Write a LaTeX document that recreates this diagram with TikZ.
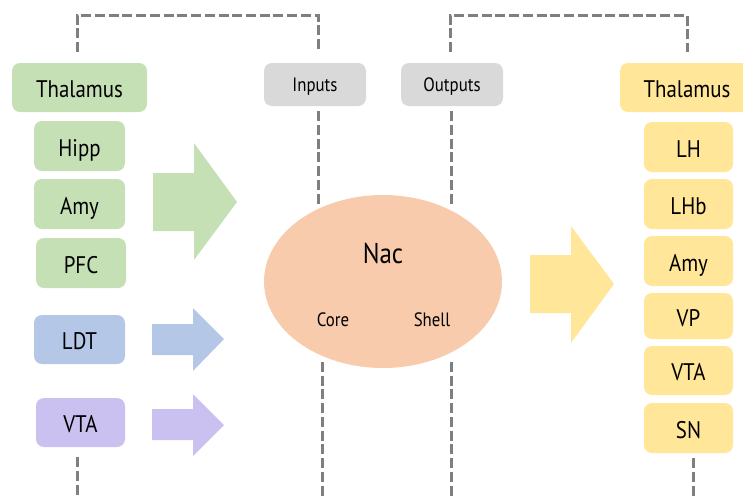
\documentclass[tikz,border=0pt]{standalone}
\usepackage{fontspec}
\setmainfont{PT Sans}[FakeStretch=0.87]
\usetikzlibrary{shapes.geometric}

\definecolor{inGreen}{HTML}{C5E0B4}
\definecolor{inBlue}{HTML}{B4C7E7}
\definecolor{inPurple}{HTML}{CBC1F0}
\definecolor{outYellow}{HTML}{FFE699}
\definecolor{nacPeach}{HTML}{F8CBAD}
\definecolor{tagGray}{HTML}{D9D9D9}
\definecolor{linkGray}{HTML}{7F7F7F}

\tikzset{
  region/.style={rounded corners=6pt, inner sep=0pt, text height=15pt, text depth=0pt,
    font=\fontsize{18}{20}\selectfont},
  inG/.style={region, fill=inGreen},
  inB/.style={region, fill=inBlue},
  inP/.style={region, fill=inPurple},
  outY/.style={region, fill=outYellow},
  tag/.style={region, fill=tagGray, text height=11pt, font=\fontsize{14.5}{16}\selectfont},
  link/.style={draw=linkGray, line width=2.25pt, dash pattern=on 7.5pt off 2.8pt},
  subpart/.style={font=\fontsize{14.5}{16}\selectfont, inner sep=0pt}
}

\begin{document}
\begin{tikzpicture}[x=0.75pt,y=0.75pt,yscale=-1,xscale=1]
\useasboundingbox (0,0) rectangle (743,497);

%Shape: Dashed links
\coordinate (thalLstub) at (77,52);
\coordinate (inStub) at (318,52);
\coordinate (outStub) at (450,52);
\coordinate (thalRstub) at (687,52);
\coordinate (inEnd) at (318,205);
\coordinate (outEnd) at (451,205);
\coordinate (coreTop) at (322,362);
\coordinate (coreEnd) at (322,497);
\coordinate (shellTop) at (451,362);
\coordinate (shellEnd) at (451,497);
\coordinate (vtaLend) at (77,497);
\coordinate (snEnd) at (693,497);

% Input side boxes
\node[inG, minimum width=101.25pt, minimum height=36.75pt] (thalL) at (79.5,87.5) {Thalamus};
\node[inG, minimum width=68.25pt, minimum height=37.5pt] (hipp) at (79.5,146) {Hipp};
\node[inG, minimum width=68.25pt, minimum height=37.5pt] (amyL) at (79.5,204) {Amy};
\node[inG, minimum width=67.5pt, minimum height=37.5pt] (pfc) at (81,263) {PFC};
\node[inB, minimum width=68.25pt, minimum height=36.75pt] (ldt) at (79.5,339.5) {LDT};
\node[inP, minimum width=66.75pt, minimum height=36.75pt] (vtaL) at (80.5,422.5) {VTA};

% Tags
\node[tag, minimum width=76.5pt, minimum height=32.25pt] (inputs) at (315,84.5) {Inputs};
\node[tag, minimum width=76.5pt, minimum height=32.25pt] (outputs) at (452,84.5) {Outputs};

% Output side boxes
\node[outY, minimum width=100.5pt, minimum height=36.75pt] (thalR) at (687,87.5) {Thalamus};
\node[outY, minimum width=66.75pt, minimum height=37.5pt] (lh) at (688.5,147) {LH};
\node[outY, minimum width=66.75pt, minimum height=37.5pt] (lhb) at (688.5,204) {LHb};
\node[outY, minimum width=66.75pt, minimum height=37.5pt] (amyR) at (688.5,261) {Amy};
\node[outY, minimum width=66.75pt, minimum height=34.5pt] (vp) at (688.5,316) {VP};
\node[outY, minimum width=66.75pt, minimum height=36.75pt] (vtaR) at (688.5,370.5) {VTA};
\node[outY, minimum width=66.75pt, minimum height=37.5pt] (sn) at (688.5,428) {SN};

\draw[link] (thalLstub) -- ++(0,-37) -| (inStub);
\draw[link] (outStub) -- ++(0,-37) -| (thalRstub);
\draw[link] ([yshift=3.75pt]inputs.south -| inEnd) -- (inEnd);
\draw[link] ([yshift=3.75pt]outputs.south -| outEnd) -- (outEnd);
\draw[link] (coreTop) -- (coreEnd);
\draw[link] (shellTop) -- (shellEnd);
\draw[link] ([yshift=7.5pt]vtaL.south -| vtaLend) -- (vtaLend);
\draw[link] ([yshift=3.75pt]sn.south -| snEnd) -- (snEnd);

%Shape: Nac ellipse
\node[ellipse, fill=nacPeach, minimum width=178.5pt, minimum height=129.75pt, inner sep=0pt] (nac) at (383,281.5) {};
\node[font=\fontsize{21.5}{24}\selectfont, inner sep=0pt] (nacLabel) at (383,253) {Nac};
\node[subpart] (core) at (333,320) {Core};
\node[subpart] (shell) at (432,320) {Shell};

%Shape: Block arrows
\fill[inGreen] (153,173) -- (194,173) -- (194,143) -- (237,202) -- (194,260) -- (194,231) -- (153,231) -- cycle;
\fill[inBlue] (152,324) -- (193,324) -- (193,308) -- (224,339) -- (193,371) -- (193,355) -- (152,355) -- cycle;
\fill[inPurple] (152,409) -- (193,409) -- (193,394) -- (224,425) -- (193,456) -- (193,440) -- (152,440) -- cycle;
\fill[outYellow] (530,255) -- (571,255) -- (571,226) -- (614,284) -- (571,343) -- (571,313) -- (530,313) -- cycle;

\end{tikzpicture}
\end{document}
